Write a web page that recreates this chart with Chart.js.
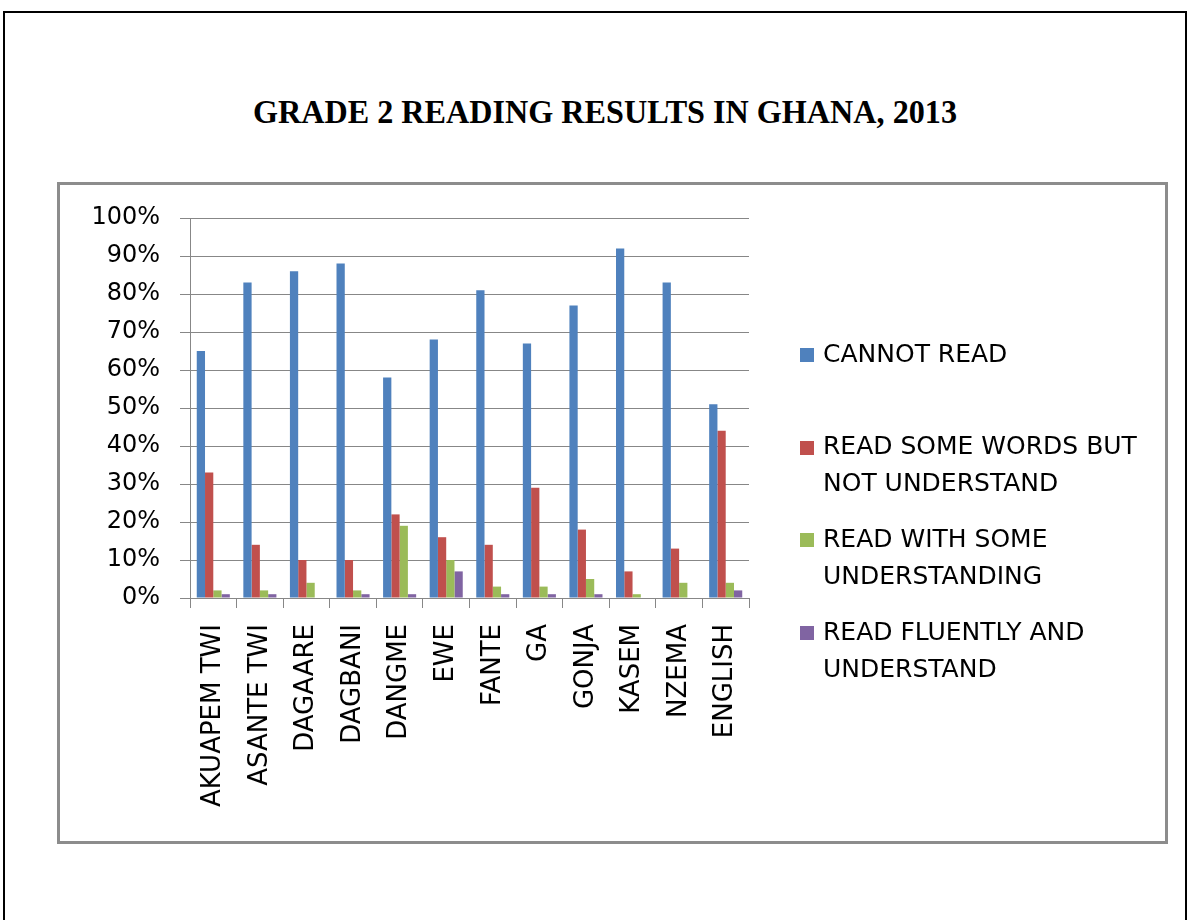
<!DOCTYPE html>
<html>
<head>
<meta charset="utf-8">
<script src="https://cdn.jsdelivr.net/npm/chart.js@4/dist/chart.umd.min.js"></script>
<style>
  html, body { margin: 0; padding: 0; background: #fff; }
  body { width: 1190px; height: 920px; position: relative; overflow: hidden; }
  #page { position: absolute; left: 3px; top: 11px; width: 1184px; height: 960px; border: 2px solid #000; box-sizing: border-box; }
  #box { position: absolute; left: 57px; top: 182px; width: 1111px; height: 662px; border: 3px solid #8c8c8c; box-sizing: border-box; }
  #title { position: absolute; left: 605px; top: 96px; white-space: nowrap; font: bold 33px "Liberation Serif", "Times New Roman", serif; line-height: 33px; color: #000; transform-origin: 0 0; }
  canvas { position: absolute; left: 0; top: 0; }
</style>
</head>
<body>
<div id="page"></div>
<div id="box"></div>
<div id="title">GRADE 2 READING RESULTS IN GHANA, 2013</div>
<canvas id="c" width="1190" height="920"></canvas>
<script>
// ---- data ----
const categories = ['AKUAPEM TWI', 'ASANTE TWI', 'DAGAARE', 'DAGBANI', 'DANGME', 'EWE', 'FANTE', 'GA', 'GONJA', 'KASEM', 'NZEMA', 'ENGLISH'];
const seriesNames = ['CANNOT READ', 'READ SOME WORDS BUT NOT UNDERSTAND', 'READ WITH SOME UNDERSTANDING', 'READ FLUENTLY AND UNDERSTAND'];
const cannotRead    = [65, 83, 86, 88, 58, 68, 81, 67, 77, 92, 83, 51];
const readSomeWords = [33, 14, 10, 10, 22, 16, 14, 29, 18,  7, 13, 44];
const readWithSome  = [ 2,  2,  4,  2, 19, 10,  3,  3,  5,  1,  4,  4];
const readFluently  = [ 1,  1,  0,  1,  1,  7,  1,  1,  1,  0,  0,  2];
const yTickValues   = [0, 10, 20, 30, 40, 50, 60, 70, 80, 90, 100];
const seriesColors  = ['#4F81BD', '#C0504D', '#9BBB59', '#8064A2'];

// title width fit
(function(){
  const t = document.getElementById('title');
  const w = t.getBoundingClientRect().width;
  const target = 704;
  const k = target / w;
  t.style.transform = 'scaleX(' + k + ') translateX(-50%)';
})();

function wrapText(ctx, text, maxW) {
  const words = text.split(' ');
  const lines = [];
  let cur = '';
  words.forEach(w => {
    const test = cur ? cur + ' ' + w : w;
    if (ctx.measureText(test).width > maxW && cur) { lines.push(cur); cur = w; }
    else cur = test;
  });
  if (cur) lines.push(cur);
  return lines;
}

const sideLegend = {
  id: 'sideLegend',
  afterDraw(chart, args, opts) {
    const ctx = chart.ctx;
    ctx.save();
    ctx.font = opts.font;
    ctx.textBaseline = 'middle';
    ctx.textAlign = 'left';
    chart.data.datasets.forEach((ds, i) => {
      const y0 = opts.top + i * opts.spacing;
      ctx.fillStyle = ds.backgroundColor;
      ctx.fillRect(opts.boxX, Math.round(y0 - opts.boxSize / 2), opts.boxSize, opts.boxSize);
      ctx.fillStyle = opts.color;
      const lines = wrapText(ctx, ds.label, opts.maxWidth);
      lines.forEach((ln, j) => ctx.fillText(ln, opts.textX, y0 + j * opts.lineHeight));
    });
    ctx.restore();
  }
};

const seriesData = [cannotRead, readSomeWords, readWithSome, readFluently];
const gridColor = '#878787';

new Chart(document.getElementById('c'), {
  type: 'bar',
  data: {
    labels: categories,
    datasets: seriesNames.map((name, i) => ({
      label: name,
      data: seriesData[i],
      backgroundColor: seriesColors[i],
      borderWidth: 0,
      categoryPercentage: 0.71,
      barPercentage: 1.0
    }))
  },
  options: {
    responsive: false,
    animation: false,
    devicePixelRatio: 1,
    layout: { padding: { left: 90, right: 441, top: 218, bottom: 0 } },
    plugins: {
      legend: { display: false },
      tooltip: { enabled: false },
      title: { display: false },
      sideLegend: {
        font: '25px "DejaVu Sans"',
        color: '#000',
        boxX: 800, boxSize: 14, textX: 823,
        top: 355, spacing: 92.7, lineHeight: 37, maxWidth: 340
      }
    },
    scales: {
      x: {
        offset: true,
        grid: { display: true, drawOnChartArea: false, drawTicks: true, tickLength: 10, offset: true, color: gridColor, lineWidth: 1 },
        border: { display: true, color: gridColor, width: 1 },
        ticks: { minRotation: 90, maxRotation: 90, autoSkip: false, padding: 16, color: '#000', font: { family: 'DejaVu Sans', size: 26 } },
        afterFit(scale) { scale.height = 322; }
      },
      y: {
        min: 0, max: 100,
        afterBuildTicks(scale) { scale.ticks = yTickValues.map(v => ({ value: v })); },
        grid: { color: gridColor, lineWidth: 1, drawTicks: true, tickLength: 10 },
        border: { display: true, color: gridColor, width: 1 },
        ticks: { padding: 20, color: '#000', font: { family: 'DejaVu Sans', size: 24 }, callback: v => v + '%' },
        afterFit(scale) { scale.width = 100; }
      }
    }
  },
  plugins: [sideLegend]
});
</script>
</body>
</html>
